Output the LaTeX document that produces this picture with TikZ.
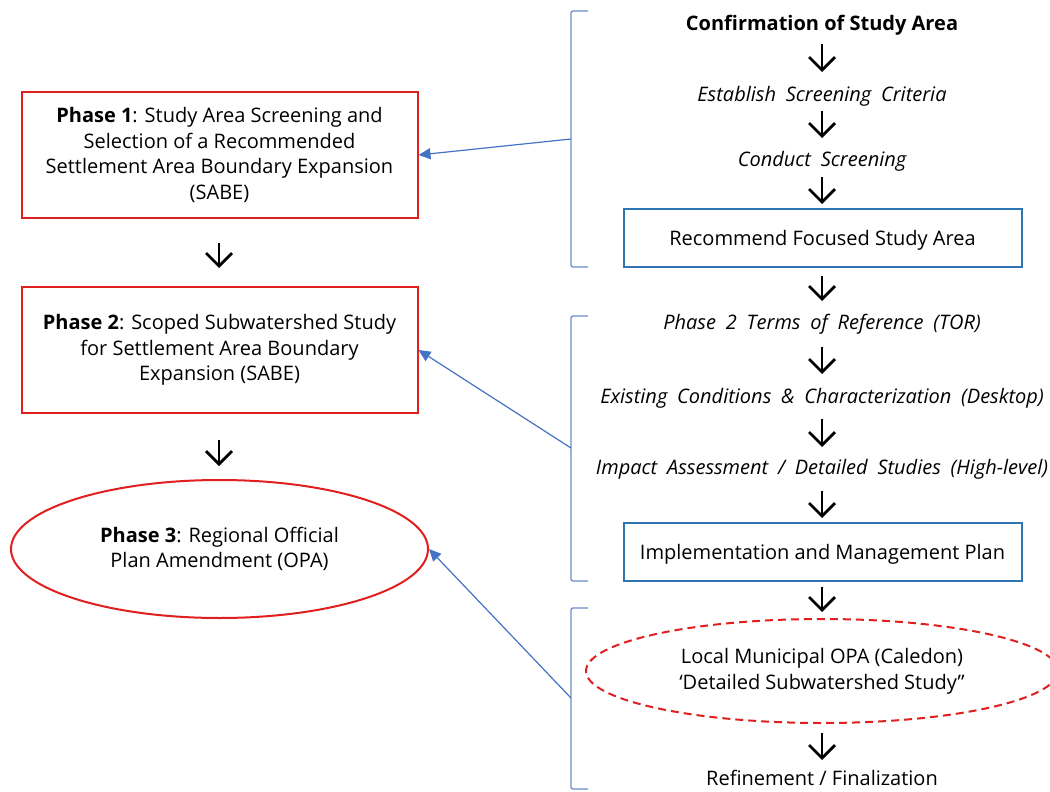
\documentclass[tikz,border=0pt]{standalone}
\usepackage{fontspec}
\setmainfont{Open Sans}
\usetikzlibrary{arrows.meta,shapes.geometric}
\definecolor{redb}{HTML}{E0201F}
\definecolor{blueb}{HTML}{2E75B6}
\definecolor{conn}{HTML}{4472C4}
\definecolor{brkc}{HTML}{6A8BCB}
\newcommand{\bodyfont}{\fontsize{20}{25.7}\selectfont}
\newcommand{\stepfont}{\bodyfont\itshape\spaceskip=9.8pt\relax}
\begin{document}
\begin{tikzpicture}[x=1pt,y=-1pt,
  every node/.style={font=\bodyfont, inner sep=0pt},
  redbox/.style={draw=redb, line width=2pt, minimum width=396pt, minimum height=126pt, align=center},
  bluebox/.style={draw=blueb, line width=2pt, minimum width=398pt, minimum height=58pt, text depth=0pt},
  stepit/.style={font=\stepfont, anchor=base},
  glyph/.style={line width=2.8pt, -{Straight Barb[length=13pt,width=26pt]}},
  brk/.style={draw=brkc, line width=1.3pt, rounded corners=2pt},
  link/.style={draw=conn, line width=1.2pt, -{Triangle[length=12pt,width=11pt]}}
]
\useasboundingbox (0,0) rectangle (1050,792);

% left column
\node[redbox] (ph1) at (219.5,155) {\textbf{Phase 1}: Study Area Screening and\\Selection of a Recommended\\Settlement Area Boundary Expansion\\(SABE)};
\node[redbox] (ph2) at (219.5,350) {\textbf{Phase 2}: Scoped Subwatershed Study\\for Settlement Area Boundary\\Expansion (SABE)};
\node[draw=redb, line width=2pt, ellipse, minimum width=417pt, minimum height=138pt, align=center] (ph3) at (219.5,549) {\textbf{Phase 3}: Regional Official\\Plan Amendment (OPA)};

% right column
\node[anchor=base, font=\bodyfont\bfseries] (c1) at (822,31) {Confirmation of Study Area};
\node[stepit] (c2) at (822,101) {Establish Screening Criteria};
\node[stepit] (c3) at (822,166) {Conduct Screening};
\node[bluebox] (c4) at (822.5,237.5) {Recommend Focused Study Area};
\node[stepit] (c5) at (822,329) {Phase 2 Terms of Reference (TOR)};
\node[stepit] (c6) at (822,403) {Existing Conditions \& Characterization (Desktop)};
\node[stepit] (c7) at (822,474) {Impact Assessment / Detailed Studies (High-level)};
\node[bluebox] (c8) at (822.5,552) {Implementation and Management Plan};
\node[draw=redb, line width=2pt, dash pattern=on 8pt off 5pt, ellipse, minimum width=472pt, minimum height=104pt, align=center] (c9) at (822,671) {Local Municipal OPA (Caledon)\\‘Detailed Subwatershed Study”};
\node[anchor=base] (c10) at (822,785) {Refinement / Finalization};

% down-arrow glyphs
\foreach \n/\x/\a/\b in {a1/822/44/72, a2/822/111/138, a3/822/177/204, a4/822/276/301, a5/822/347/374, a6/822/419/447, a7/822/491/518, a8/822/587/612, a9/822/733/760, a10/219/243/268, a11/219/440/466}{
  \coordinate (\n s) at (\x,\a);
  \coordinate (\n e) at (\x,\b);
  \draw[glyph] (\n s) -- (\n e);
}

% brackets
\draw[brk] (588,11) -- (571,11) -- (571,267) -- (588,267);
\draw[brk] (588,316) -- (571,316) -- (571,581) -- (588,581);
\draw[brk] (588,608) -- (571,608) -- (571,789) -- (588,789);
\coordinate (b1) at (571,139);
\coordinate (b2) at (571,448);
\coordinate (b3) at (571,698);

% links
\draw[link] (b1) -- (ph1.east);
\draw[link] (b2) -- (ph2.east);
\draw[link] (b3) -- (ph3.east);
\end{tikzpicture}
\end{document}
